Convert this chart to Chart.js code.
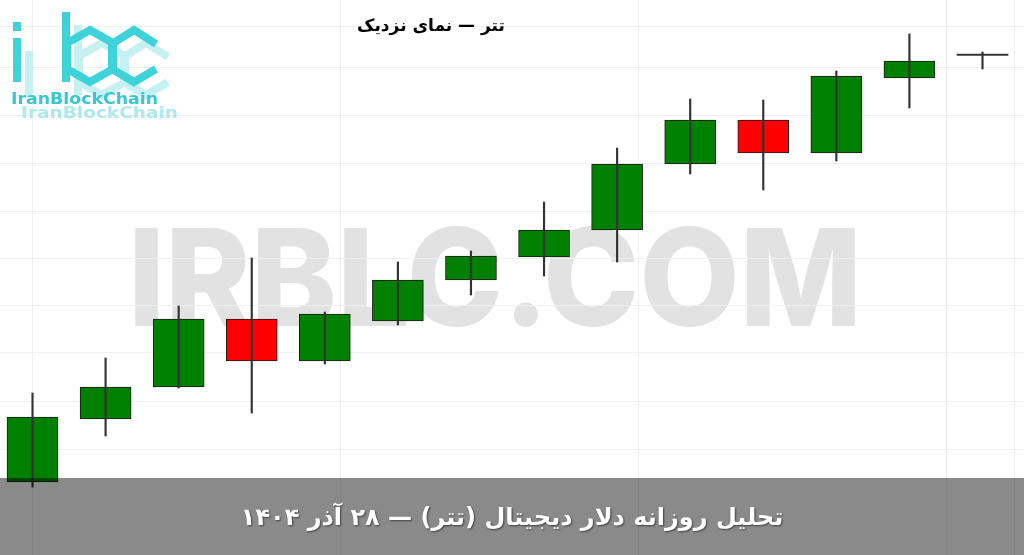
<!DOCTYPE html>
<html lang="fa">
<head>
<meta charset="utf-8">
<title>تتر — نمای نزدیک</title>
<script src="https://cdn.jsdelivr.net/npm/chart.js@4.4.1/dist/chart.umd.min.js"></script>
<style>
  html, body { margin: 0; padding: 0; background: #fff; }
  #wrap { position: relative; width: 1024px; height: 555px; overflow: hidden; }
  #mark { position: absolute; left: 0; top: 0; z-index: 0; }
  #chart { position: absolute; left: 0; top: 0; z-index: 1; }
  #logo { position: absolute; left: 0; top: 0; z-index: 2; }
  #title {
    position: absolute; left: 281px; width: 300px; top: 15px; z-index: 2;
    text-align: center; direction: rtl; color: #000;
    font: bold 17px "DejaVu Sans", sans-serif;
  }
  #band {
    position: absolute; left: 0; top: 478px; width: 1024px; height: 77px; z-index: 3;
    background: rgba(0, 0, 0, 0.46);
  }
  #bandText {
    position: absolute; left: 0; width: 1024px; top: 503px; z-index: 4;
    text-align: center; direction: rtl; color: #fff;
    font: bold 24px "DejaVu Sans", sans-serif;
    text-shadow: 1px 1px 2px rgba(0, 0, 0, 0.55);
  }
</style>
</head>
<body>
<div id="wrap">
  <svg id="mark" width="1024" height="555">
    <text x="128" y="326" textLength="734" lengthAdjust="spacingAndGlyphs"
          font-family="Inter" font-weight="800" font-size="135" fill="#e2e2e2">IRBLC.COM</text>
  </svg>
  <canvas id="chart" width="1024" height="555"></canvas>
  <svg id="logo" width="200" height="130">
    <!-- سایه کم‌رنگ لوگو -->
    <g fill="none" stroke="#c6f1f3" stroke-width="8" transform="translate(12,13)">
      <line x1="17" y1="38" x2="17" y2="82"/>
      <line x1="66" y1="12" x2="66" y2="82"/>
      <polygon points="90,30 113,43 113,69 90,82 67,69 67,43"/>
      <polyline points="156,44 134,30 112,44 112,69 134,82 156,69"/>
    </g>
    <g fill="none" stroke="#3dd3d9" stroke-width="8">
      <line x1="17" y1="22" x2="17" y2="31"/>
      <line x1="17" y1="38" x2="17" y2="82"/>
      <line x1="66" y1="12" x2="66" y2="82"/>
      <polygon points="90,30 113,43 113,69 90,82 67,69 67,43"/>
      <polyline points="156,44 134,30 112,44 112,69 134,82 156,69"/>
    </g>
    <text x="11" y="104" font-family="DejaVu Sans" font-weight="bold" font-size="15"
          fill="#36c8d0" textLength="147" lengthAdjust="spacingAndGlyphs">IranBlockChain</text>
    <text x="21" y="118" font-family="DejaVu Sans" font-weight="bold" font-size="15"
          fill="#ade9ec" textLength="157" lengthAdjust="spacingAndGlyphs">IranBlockChain</text>
  </svg>
  <div id="title">تتر — نمای نزدیک</div>
  <div id="band"></div>
  <div id="bandText">تحلیل روزانه دلار دیجیتال (تتر) — ۲۸ آذر ۱۴۰۴</div>
</div>

<script>
// --- داده‌های کندل‌ها (واحد نسبی، از روی تصویر خوانده شده) ---
const days   = [1, 2, 3, 4, 5, 6, 7, 8, 9, 10, 11, 12, 13, 14];
const opens  = [18, 81, 113, 181, 139, 179, 220, 243, 270, 336, 380, 347, 422, 446];
const highs  = [107, 142, 194, 242, 188, 238, 249, 298, 352, 401, 400, 429, 466, 448];
const lows   = [13, 64, 112, 87, 136, 175, 205, 224, 238, 326, 310, 339, 392, 431];
const closes = [83, 113, 181, 139, 186, 220, 244, 270, 336, 380, 347, 424, 439, 446];

// خطوط راهنمای کم‌رنگ پس‌زمینه
const gridX = [1, 5.21, 9.29, 13.51, 14.44];
const gridY = [473, 432, 385, 337, 289, 242, 194, 147, 98, 50];

const upColor = '#008000';
const downColor = '#ff0000';
const dojiColor = '#333333';

const bodyColors = days.map((d, i) =>
  closes[i] > opens[i] ? upColor : (closes[i] < opens[i] ? downColor : dojiColor));
const bodyBorders = days.map((d, i) => closes[i] === opens[i] ? 0 : 1);

const ctx = document.getElementById('chart').getContext('2d');

const gridOpts = { color: '#f0f0f0', lineWidth: 1, drawTicks: false, offset: false };

new Chart(ctx, {
  type: 'bar',
  data: {
    datasets: [
      {
        // سایه‌ها (فتیله‌ها) روی بدنه رسم می‌شوند
        label: 'wick',
        data: days.map((d, i) => ({ x: d, y: [lows[i], highs[i]] })),
        backgroundColor: '#333333',
        barThickness: 1.5,
        grouped: false,
        order: 0
      },
      {
        label: 'body',
        data: days.map((d, i) => ({ x: d, y: [opens[i], closes[i]] })),
        backgroundColor: bodyColors,
        borderColor: '#1a1a1a',
        borderWidth: bodyBorders,
        borderSkipped: false,
        barThickness: 51,
        minBarLength: 1.5,
        grouped: false,
        order: 1
      }
    ]
  },
  options: {
    responsive: false,
    animation: false,
    devicePixelRatio: 1,
    layout: { padding: 0 },
    plugins: { legend: { display: false }, tooltip: { enabled: false } },
    scales: {
      x: {
        type: 'linear',
        min: 0.555,
        max: 14.568,
        offset: false,
        ticks: { display: false },
        grid: gridOpts,
        border: { display: false },
        afterBuildTicks: scale => { scale.ticks = gridX.map(v => ({ value: v })); }
      },
      y: {
        type: 'linear',
        min: -55,
        max: 500,
        ticks: { display: false },
        grid: gridOpts,
        border: { display: false },
        afterBuildTicks: scale => { scale.ticks = gridY.map(v => ({ value: v })); }
      }
    }
  }
});
</script>
</body>
</html>
